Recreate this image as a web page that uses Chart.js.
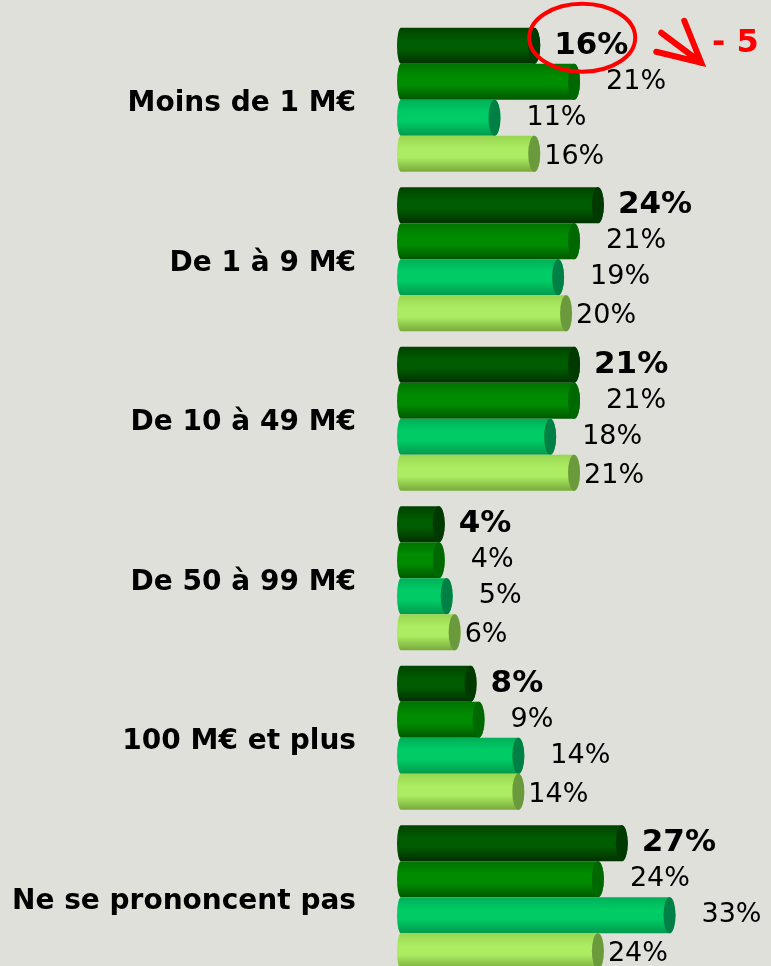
<!DOCTYPE html>
<html>
<head>
<meta charset="utf-8">
<script src="https://cdn.jsdelivr.net/npm/chart.js@4.4.1/dist/chart.umd.min.js"></script>
<style>
  html, body { margin: 0; padding: 0; background: #dfe0da; overflow: hidden; }
  #wrap { position: relative; width: 771px; height: 980px; }
</style>
</head>
<body>
<div id="wrap"><canvas id="chart"></canvas></div>
<script>
// Categories and series values (percent)
const categories = ['Moins de 1 M€', 'De 1 à 9 M€', 'De 10 à 49 M€', 'De 50 à 99 M€', '100 M€ et plus', 'Ne se prononcent pas'];
const serie1 = [16, 24, 21, 4, 8, 27];
const serie2 = [21, 21, 21, 4, 9, 24];
const serie3 = [11, 19, 18, 5, 14, 33];
const serie4 = [16, 20, 21, 6, 14, 24];

// Cylinder colours: [top, highlight, bottom, cap]
const shades = [
    ['#004200', '#005c00', '#003000', '#003a00'],
    ['#007400', '#008c00', '#005800', '#006800'],
    ['#00b058', '#00cc66', '#009a4c', '#008044'],
    ['#98d650', '#acec62', '#78aa3c', '#6a9a3c']
];
const labelOffset = [14, 26, 26, 4];

// Draws each bar as a 3D-ish cylinder from the bar element geometry
const cylinderPlugin = {
    id: 'cylinders',
    afterDatasetsDraw(chart) {
        const ctx = chart.ctx;
        chart.data.datasets.forEach((ds, i) => {
            const meta = chart.getDatasetMeta(i);
            const c = shades[i];
            meta.data.forEach((bar) => {
                const xL = Math.min(bar.base, bar.x);
                const xR = Math.max(bar.base, bar.x);
                const top = bar.y - bar.height / 2;
                const h = bar.height;
                const ry = h / 2;
                const rx = 6;
                const rl = 4;
                const cx = xR - rx;

                ctx.save();
                const g = ctx.createLinearGradient(0, top, 0, top + h);
                g.addColorStop(0, c[0]);
                g.addColorStop(0.35, c[1]);
                g.addColorStop(0.6, c[1]);
                g.addColorStop(1, c[2]);
                ctx.beginPath();
                ctx.moveTo(xL + rl, top);
                ctx.lineTo(cx, top);
                ctx.ellipse(cx, bar.y, rx, ry, 0, -Math.PI / 2, Math.PI / 2);
                ctx.lineTo(xL + rl, top + h);
                ctx.ellipse(xL + rl, bar.y, rl, ry, 0, Math.PI / 2, Math.PI * 1.5);
                ctx.closePath();
                ctx.fillStyle = g;
                ctx.fill();

                // end face
                ctx.beginPath();
                ctx.ellipse(cx, bar.y, rx, ry, 0, 0, Math.PI * 2);
                ctx.fillStyle = c[3];
                ctx.fill();
                ctx.restore();
            });
        });
    }
};

// Value labels to the right of each bar
const valueLabels = {
    id: 'valueLabels',
    afterDatasetsDraw(chart) {
        const ctx = chart.ctx;
        chart.data.datasets.forEach((ds, i) => {
            const meta = chart.getDatasetMeta(i);
            ctx.save();
            ctx.fillStyle = '#000';
            ctx.textBaseline = 'middle';
            ctx.textAlign = 'left';
            ctx.font = i === 0 ? 'bold 31px "DejaVu Sans"' : '27px "DejaVu Sans"';
            meta.data.forEach((bar, j) => {
                const dy = i === 3 ? 3 : 0;
                ctx.fillText(ds.data[j] + '%', bar.x + labelOffset[i], bar.y + dy);
            });
            ctx.restore();
        });
    }
};

// Red hand-drawn highlight on the first bar label
const redNote = {
    id: 'redNote',
    afterDraw(chart) {
        const ctx = chart.ctx;
        const bar = chart.getDatasetMeta(0).data[0];
        const cx = bar.x + 42;
        const cy = bar.y - 8;
        ctx.save();
        ctx.strokeStyle = '#ff0000';
        ctx.lineWidth = 4;
        ctx.beginPath();
        ctx.ellipse(cx, cy, 53, 34, 0, 0, Math.PI * 2);
        ctx.stroke();

        const tx = cx + 119, ty = cy + 25;
        ctx.lineWidth = 6;
        ctx.lineCap = 'round';
        ctx.beginPath();
        ctx.moveTo(tx - 40, ty - 30);
        ctx.lineTo(tx, ty);
        ctx.moveTo(tx - 17, ty - 42);
        ctx.lineTo(tx, ty);
        ctx.lineTo(tx - 45, ty - 11);
        ctx.stroke();

        ctx.fillStyle = '#ff0000';
        ctx.font = 'bold 32px "DejaVu Sans"';
        ctx.textBaseline = 'middle';
        ctx.textAlign = 'left';
        ctx.fillText('- 5', 712, cy + 6);
        ctx.restore();
    }
};

const invisible = 'rgba(0,0,0,0)';

new Chart(document.getElementById('chart'), {
    type: 'bar',
    data: {
        labels: categories,
        datasets: [
            { label: 'Série 1', data: serie1 },
            { label: 'Série 2', data: serie2 },
            { label: 'Série 3', data: serie3 },
            { label: 'Série 4', data: serie4 }
        ].map((d) => Object.assign(d, {
            base: -2,
            backgroundColor: invisible,
            borderWidth: 0,
            categoryPercentage: 0.903,
            barPercentage: 1.0
        }))
    },
    options: {
        indexAxis: 'y',
        responsive: true,
        maintainAspectRatio: false,
        animation: false,
        layout: { padding: { top: 20, bottom: 3, left: 0, right: 0 } },
        plugins: {
            legend: { display: false },
            tooltip: { enabled: false }
        },
        scales: {
            x: {
                display: false,
                min: -2,
                max: 45
            },
            y: {
                afterFit: (scale) => {
                    scale.width = 397;
                    // the tick padding would otherwise push the plot down
                    scale.paddingTop = 0;
                    scale.paddingBottom = 0;
                },
                grid: { display: false, drawTicks: false, tickLength: 0 },
                border: { display: false },
                ticks: {
                    color: '#000',
                    padding: 41,
                    labelOffset: 4,
                    font: { family: 'DejaVu Sans', weight: 'bold', size: 28 }
                }
            }
        }
    },
    plugins: [cylinderPlugin, valueLabels, redNote]
});
</script>
</body>
</html>
